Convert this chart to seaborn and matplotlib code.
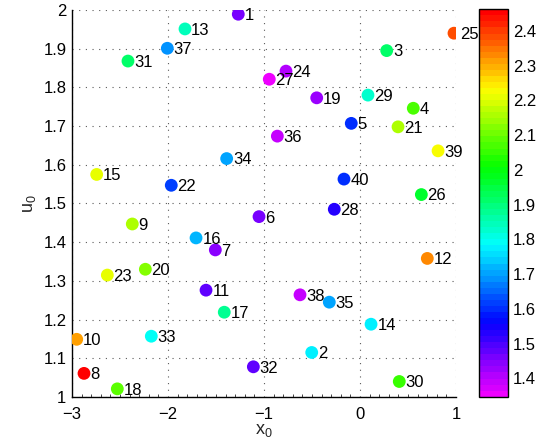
import numpy as np
import pandas as pd
import matplotlib
matplotlib.use('Agg')
import matplotlib.pyplot as plt
import seaborn as sns
from matplotlib.colors import ListedColormap, Normalize
from matplotlib.ticker import MultipleLocator, FormatStrFormatter

# point ids, positions (x_0, u_0) and colour value
labels = list(range(1, 41))
x0 = [-1.268, -0.503, 0.278, 0.555, -0.091, -1.052, -1.507, -2.875, -2.372, -2.951,
      -1.604, 0.701, -1.823, 0.115, -2.743, -1.708, -1.414, -2.528, -0.451, -2.236,
      0.396, -1.966, -2.632, -0.771, 0.979, 0.639, -0.945, -0.268, 0.083, 0.409,
      -2.417, -1.111, -2.174, -1.389, -0.320, -0.861, -2.007, -0.625, 0.813, -0.167]
u0 = [1.989, 1.115, 1.895, 1.746, 1.707, 1.466, 1.380, 1.061, 1.447, 1.149,
      1.276, 1.358, 1.951, 1.188, 1.575, 1.411, 1.219, 1.021, 1.773, 1.330,
      1.698, 1.547, 1.315, 1.842, 1.940, 1.523, 1.821, 1.485, 1.780, 1.040,
      1.868, 1.078, 1.157, 1.616, 1.245, 1.674, 1.901, 1.264, 1.636, 1.563]
value = [1.46, 1.77, 1.92, 2.07, 1.60, 1.46, 1.44, 2.462, 2.165, 2.31,
         1.485, 2.33, 1.85, 1.78, 2.21, 1.72, 1.87, 2.09, 1.43, 2.12,
         2.165, 1.62, 2.21, 1.41, 2.38, 1.97, 1.347, 1.535, 1.83, 2.05,
         1.905, 1.47, 1.79, 1.70, 1.71, 1.395, 1.69, 1.395, 2.23, 1.60]

df = pd.DataFrame({'id': labels, 'x0': x0, 'u0': u0, 'val': value})

# discrete hsv map, red (top) -> magenta (bottom)
cmap = ListedColormap(plt.cm.hsv(np.linspace(5 / 6, 0, 64)))
norm = Normalize(vmin=min(value), vmax=max(value))

sns.set_theme(style='white')
plt.rcParams['font.family'] = ['Liberation Sans', 'DejaVu Sans']
plt.rcParams['xtick.direction'] = 'in'
plt.rcParams['ytick.direction'] = 'in'

fig = plt.figure(figsize=(5.41, 4.47), dpi=100)
ax = fig.add_axes([0.1331, 0.1119, 0.7098, 0.8658])

sns.scatterplot(data=df, x='x0', y='u0', hue='val', palette=cmap, hue_norm=norm,
                s=85, edgecolor='none', legend=False, ax=ax, zorder=3)

for i, xx, yy in zip(labels, x0, u0):
    ax.annotate(str(i), (xx, yy), xytext=(4.5, -1), textcoords='offset points',
                va='center', ha='left', fontsize=12, color='black', zorder=4)

ax.set_xlim(-3, 1)
ax.set_ylim(1, 2)
ax.xaxis.set_major_locator(MultipleLocator(1))
ax.xaxis.set_minor_locator(MultipleLocator(0.1))
ax.yaxis.set_major_locator(MultipleLocator(0.1))
ax.yaxis.set_major_formatter(FormatStrFormatter('%g'))
ax.tick_params(axis='both', which='major', length=4, width=0.8, labelsize=12,
               colors='black', pad=4)
ax.tick_params(axis='x', which='major', pad=7)
ax.tick_params(axis='x', which='minor', length=2, width=0.6, bottom=True)
ax.grid(True, which='major', color='0.35', linestyle=(0, (1, 5)), linewidth=0.8)

for side in ['top', 'right']:
    ax.spines[side].set_visible(False)
for side in ['left', 'bottom']:
    ax.spines[side].set_color('black')
    ax.spines[side].set_linewidth(1.0)

ax.set_xlabel(r'x$_\mathregular{0}$', fontsize=13, labelpad=0)
ax.set_ylabel(r'u$_\mathregular{0}$', fontsize=13, labelpad=4)

# colorbar
cax = fig.add_axes([0.8854, 0.1125, 0.0536, 0.8667])
sm = plt.cm.ScalarMappable(cmap=cmap, norm=norm)
cb = fig.colorbar(sm, cax=cax)
cb.set_ticks([1.4, 1.5, 1.6, 1.7, 1.8, 1.9, 2.0, 2.1, 2.2, 2.3, 2.4])
cb.ax.yaxis.set_major_formatter(FormatStrFormatter('%g'))
cb.ax.tick_params(direction='in', length=4, width=0.8, left=True, right=True,
                  labelsize=12, colors='black')
cb.outline.set_edgecolor('black')
cb.outline.set_linewidth(1.0)

plt.savefig('out.png', dpi=100)
